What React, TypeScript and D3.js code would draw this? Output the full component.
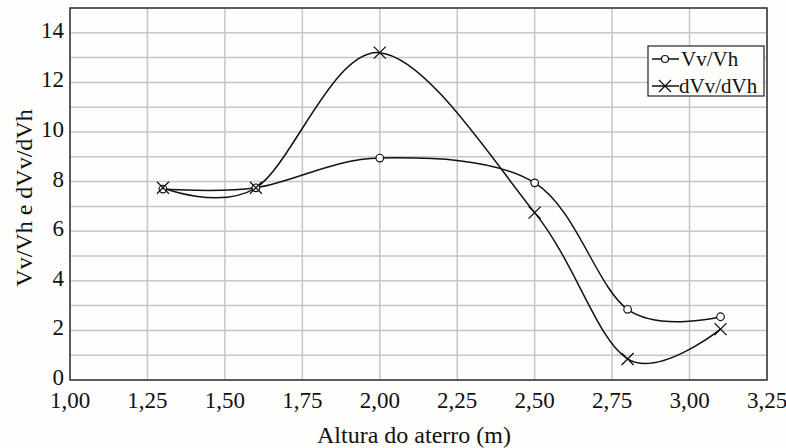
import React from "react";
import * as d3 from "d3";

const xValues = [1.3, 1.6, 2.0, 2.5, 2.8, 3.1];
const vvVh = [7.7, 7.75, 8.95, 7.95, 2.85, 2.55];
const dvvDvh = [7.75, 7.75, 13.2, 6.75, 0.85, 2.05];
const xTicks = [1.0, 1.25, 1.5, 1.75, 2.0, 2.25, 2.5, 2.75, 3.0, 3.25];
const yTicks = [0, 2, 4, 6, 8, 10, 12, 14];
const yGrid = d3.range(0, 16, 1);

const W = 786, H = 448;
const L = 70, R = 767, T = 8, B = 380;

export default function App() {
  const x = d3.scaleLinear().domain([1, 3.25]).range([L, R]);
  const y = d3.scaleLinear().domain([0, 15]).range([B, T]);
  const line = d3
    .line<[number, number]>()
    .x((d) => x(d[0]))
    .y((d) => y(d[1]))
    .curve(d3.curveCatmullRom.alpha(0));
  const s1: [number, number][] = xValues.map((v, i) => [v, vvVh[i]]);
  const s2: [number, number][] = xValues.map((v, i) => [v, dvvDvh[i]]);
  const fs = { fontFamily: '"Liberation Serif"' };
  const xm = (cx: number, cy: number, r: number, k: string) => (
    <g key={k} stroke="#111" strokeWidth={1.3}>
      <line x1={cx - r} y1={cy - r} x2={cx + r} y2={cy + r} />
      <line x1={cx - r} y1={cy + r} x2={cx + r} y2={cy - r} />
    </g>
  );
  return (
    <svg width={W} height={H} style={{ position: "absolute", left: 0, top: 0, background: "#fdfdfb" }}>
      <rect x={0} y={0} width={W} height={H} fill="#fdfdfb" />
      {yGrid.map((v) => (
        <line key={"gy" + v} x1={L} x2={R} y1={y(v)} y2={y(v)} stroke="#c6c6c6" strokeWidth={1.5} />
      ))}
      {xTicks.map((v) => (
        <line key={"gx" + v} x1={x(v)} x2={x(v)} y1={T} y2={B} stroke="#c6c6c6" strokeWidth={1.5} />
      ))}
      <rect x={L} y={T} width={R - L} height={B - T} fill="none" stroke="#333" strokeWidth={1.5} />
      <path d={line(s1) || ""} fill="none" stroke="#111" strokeWidth={1.5} />
      <path d={line(s2) || ""} fill="none" stroke="#111" strokeWidth={1.5} />
      {s1.map((d, i) => (
        <circle key={"c" + i} cx={x(d[0])} cy={y(d[1])} r={3.8} fill="#fdfdfb" stroke="#111" strokeWidth={1.2} />
      ))}
      {s2.map((d, i) => xm(x(d[0]), y(d[1]), 6, "x" + i))}
      {yTicks.map((v) => (
        <text key={"ty" + v} x={L - 6} y={y(v) + 5} textAnchor="end" style={fs} fontSize={23} fill="#111">
          {v}
        </text>
      ))}
      {xTicks.map((v) => (
        <text key={"tx" + v} x={x(v)} y={B + 28} textAnchor="middle" style={fs} fontSize={23} fill="#111">
          {v.toFixed(2).replace(".", ",")}
        </text>
      ))}
      <text x={414} y={443} textAnchor="middle" style={fs} fontSize={24} fill="#111">
        Altura do aterro (m)
      </text>
      <text
        transform={`translate(32,${(T + B) / 2 + 4}) rotate(-90)`}
        textAnchor="middle"
        style={fs}
        fontSize={24}
        fill="#111"
      >
        Vv/Vh e dVv/dVh
      </text>
      <g>
        <rect x={648} y={46} width={116} height={50} fill="#fdfdfb" stroke="#222" strokeWidth={1.2} />
        <line x1={652} x2={679} y1={59} y2={59} stroke="#111" strokeWidth={1.5} />
        <circle cx={665} cy={59} r={3.5} fill="#fdfdfb" stroke="#111" strokeWidth={1.2} />
        <text x={681} y={66} style={fs} fontSize={21} fill="#111">Vv/Vh</text>
        <line x1={652} x2={679} y1={86} y2={86} stroke="#111" strokeWidth={1.5} />
        {xm(665, 86, 6, "lx")}
        <text x={679} y={93} style={fs} fontSize={21} fill="#111">dVv/dVh</text>
      </g>
    </svg>
  );
}
